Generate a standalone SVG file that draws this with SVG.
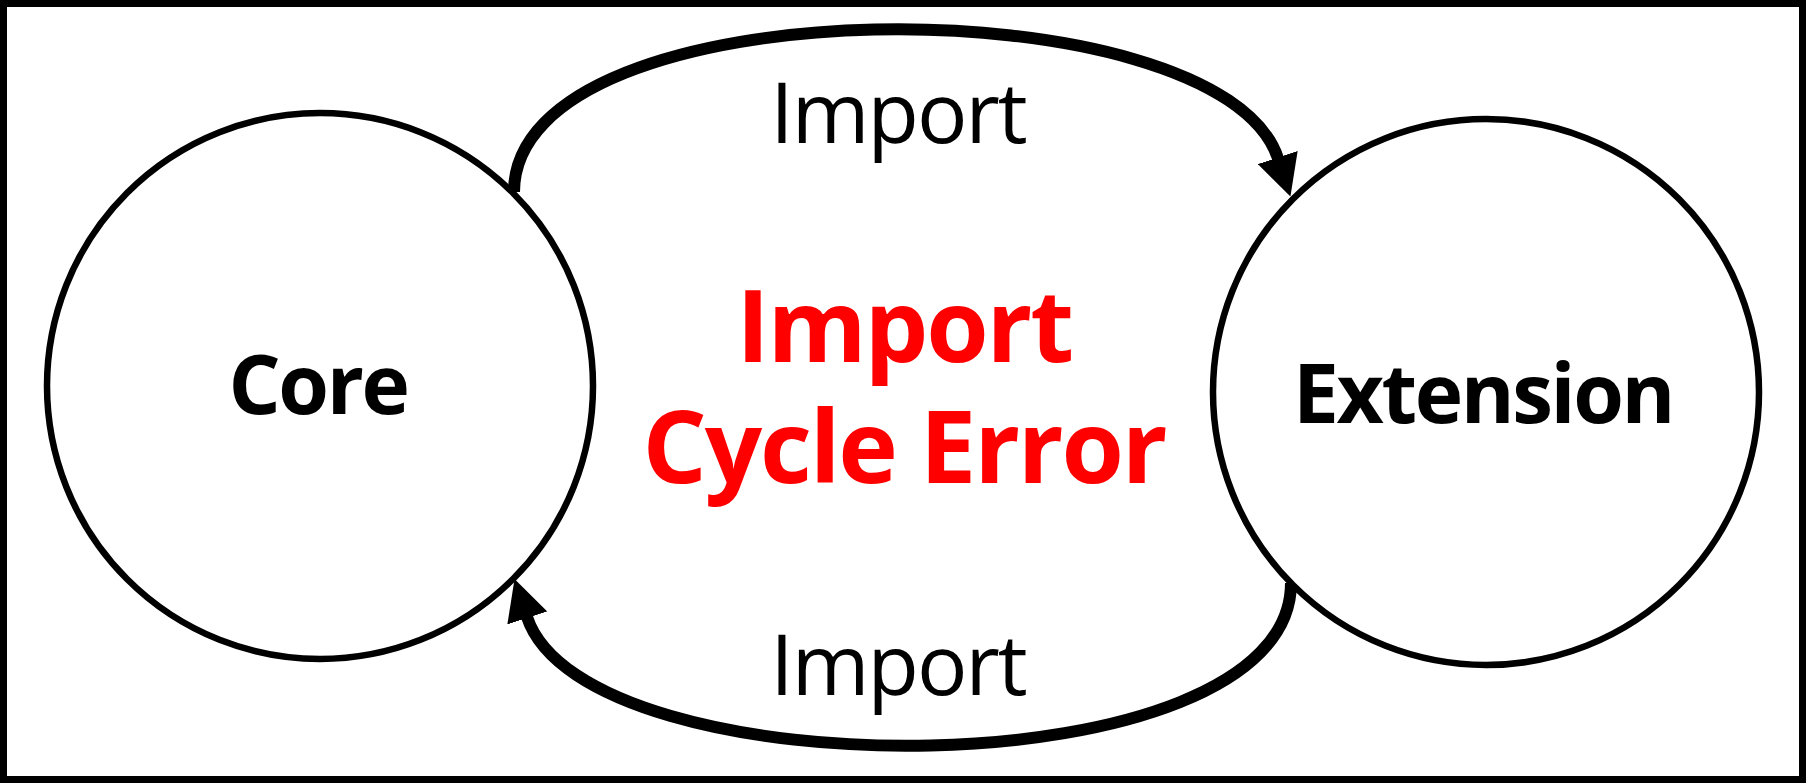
<svg xmlns="http://www.w3.org/2000/svg" width="1806" height="783" viewBox="0 0 1806 783">
<style>
.node{fill:#fff;stroke:#000;stroke-width:6.5}
.lbl{font-family:"Open Sans","Noto Sans","Liberation Sans",sans-serif;font-weight:700;font-size:82px;fill:#000;text-anchor:middle;letter-spacing:-2.4px}
.edge{fill:none;stroke:#000;stroke-width:12;marker-end:url(#ah)}
.elbl{font-family:"Open Sans","Noto Sans","Liberation Sans",sans-serif;font-size:84px;fill:#000;text-anchor:middle;letter-spacing:-2px}
.err{font-family:"Open Sans","Noto Sans","Liberation Sans",sans-serif;font-weight:700;font-size:101px;fill:#ff0000;text-anchor:middle;letter-spacing:-2.2px}
</style>
<defs>
<marker id="ah" markerUnits="userSpaceOnUse" viewBox="0 0 41 42" markerWidth="41" markerHeight="42" refX="1" refY="21" orient="auto">
<path d="M0,0 L41,21 L0,42 Z" fill="#000"/>
</marker>
</defs>
<rect x="3.5" y="3.5" width="1799" height="776" fill="#fff" stroke="#000" stroke-width="7"/>
<g id="connectors">
<path class="edge" d="M514,192 C514,-19 1220,-19 1278,158.5"/>
<path class="edge" d="M1291,583 C1291,794 585,794 527,617"/>
</g>
<g id="edge-labels">
<text class="elbl" x="898" y="143">Import</text>
<text class="elbl" x="898" y="695">Import</text>
</g>
<g id="node-core">
<circle class="node" cx="320" cy="386" r="273"/>
<text class="lbl" x="318" y="414">Core</text>
</g>
<g id="node-extension">
<circle class="node" cx="1486" cy="392" r="273"/>
<text class="lbl" x="1483" y="423">Extension</text>
</g>
<g id="error-label">
<text class="err" x="904" y="362">Import</text>
<text class="err" x="904" y="483">Cycle Error</text>
</g>
</svg>
